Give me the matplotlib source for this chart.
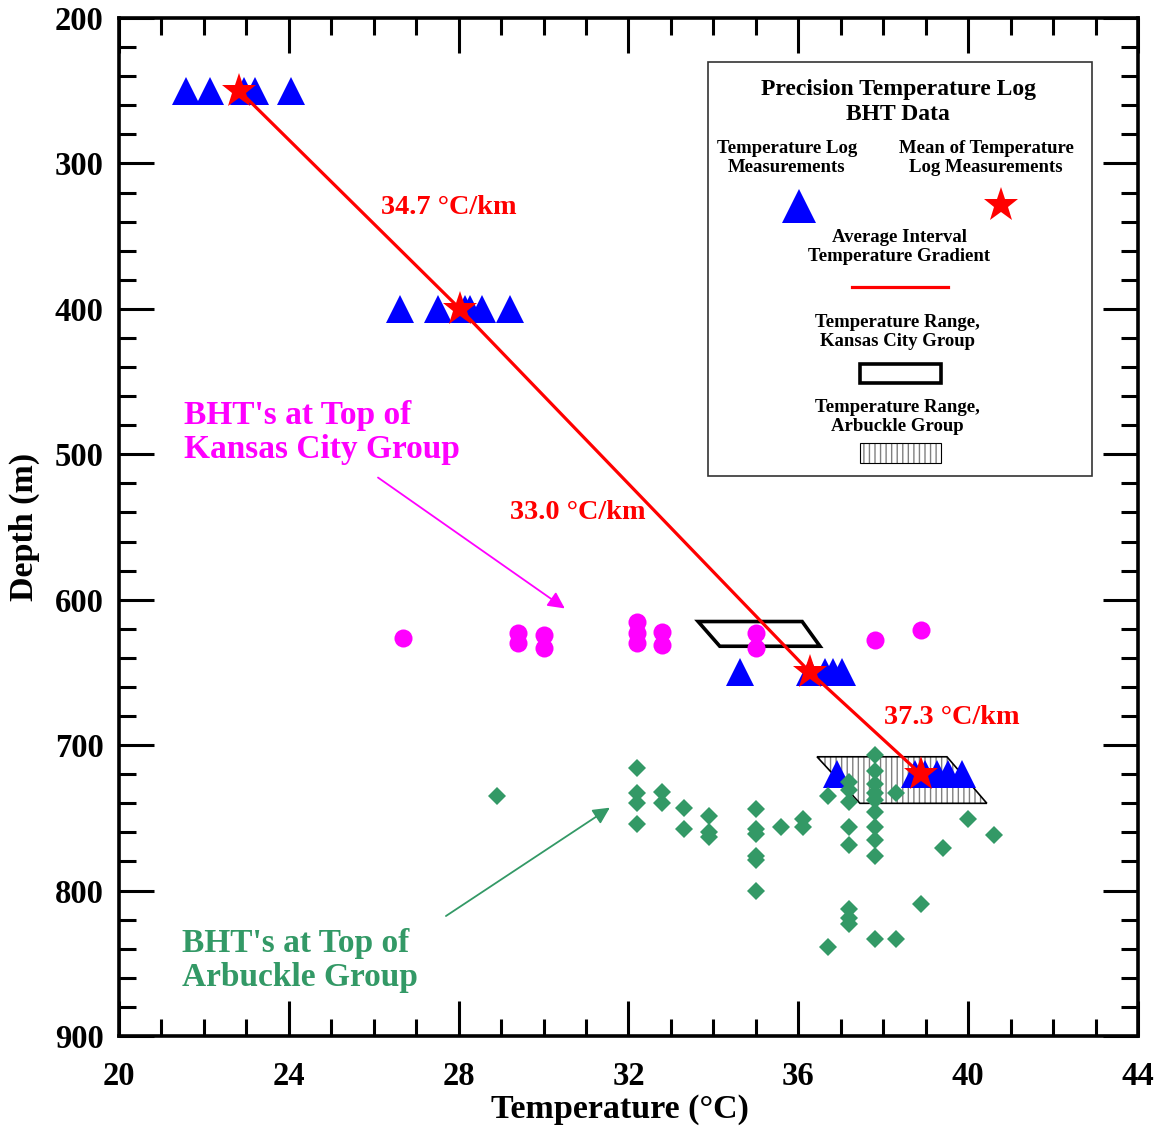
import matplotlib
matplotlib.use("Agg")
import matplotlib.pyplot as plt
from matplotlib.patches import Polygon, Rectangle
from matplotlib.lines import Line2D
from matplotlib.ticker import MultipleLocator

plt.rcParams['font.family'] = ['Liberation Serif', 'DejaVu Serif']
plt.rcParams['font.weight'] = 'bold'
plt.rcParams['hatch.linewidth'] = 1.0

# Precision temperature log measurements (deg C) at each logged depth (m)
log_depths = [250, 400, 650, 720]
log_temps = [
    [21.58, 22.14, 22.95, 23.20, 24.05],
    [26.62, 27.51, 28.15, 28.27, 28.55, 29.21],
    [34.63, 36.27, 36.63, 36.82, 37.03],
    [36.91, 38.75, 38.98, 39.27, 39.52, 39.85],
]
# Mean of the temperature log measurements
mean_temps = [22.83, 28.03, 36.28, 38.89]

# BHTs at top of the Kansas City Group
kc_temps = [26.7, 29.4, 29.4, 30.0, 30.0, 32.2, 32.2, 32.2, 32.8, 32.8,
            35.0, 35.0, 37.8, 38.9]
kc_depths = [626, 623, 630, 624, 633, 615, 623, 630, 622, 631,
             623, 633, 628, 621]

# BHTs at top of the Arbuckle Group
arb_temps = [28.9, 32.2, 32.2, 32.2, 32.2, 32.8, 32.8, 33.3, 33.3,
             33.9, 33.9, 33.9, 35.0, 35.0, 35.0, 35.0, 35.0, 35.0,
             35.6, 36.1, 36.1, 36.7, 36.7,
             37.2, 37.2, 37.2, 37.2, 37.2, 37.2, 37.2, 37.2,
             37.8, 37.8, 37.8, 37.8, 37.8, 37.8, 37.8, 37.8, 37.8, 37.8,
             38.3, 38.3, 38.9, 39.4, 40.0, 40.6]
arb_depths = [735, 716, 733, 740, 754, 732, 740, 743, 758,
              749, 760, 763, 744, 758, 761, 776, 779, 800,
              756, 751, 756, 735, 839,
              725, 731, 739, 756, 769, 813, 819, 823,
              707, 718, 727, 733, 738, 746, 756, 765, 776, 833,
              733, 833, 809, 771, 751, 762]

# Temperature ranges (parallelogram corners: temp, depth)
kc_range_T = [33.64, 36.09, 36.51, 34.15]
kc_range_D = [615, 615, 632, 632]
arb_range_T = [36.44, 39.50, 40.44, 37.45]
arb_range_D = [708, 708, 740, 740]

BLUE = '#0000FF'
RED = '#FF0000'
MAGENTA = '#FF00FF'
GREEN = '#339966'

W, H = 1165, 1128
fig = plt.figure(figsize=(W / 100, H / 100), dpi=100)
ax = fig.add_axes([119 / W, 1 - 1036 / H, (1138 - 119) / W, (1036 - 18) / H])

ax.set_xlim(20, 44)
ax.set_ylim(900, 200)

# Range boxes
ax.add_patch(Polygon(list(zip(arb_range_T, arb_range_D)), closed=True,
                     facecolor='white', edgecolor='gray', hatch='|||',
                     linewidth=0, zorder=1))
ax.add_patch(Polygon(list(zip(arb_range_T, arb_range_D)), closed=True,
                     fill=False, edgecolor='black', linewidth=1.2, zorder=1.1))
ax.add_patch(Polygon(list(zip(kc_range_T, kc_range_D)), closed=True,
                     fill=False, edgecolor='black', linewidth=2.6, zorder=1.2))

# Temperature log measurements
for d, temps in zip(log_depths, log_temps):
    ax.plot(temps, [d] * len(temps), linestyle='none', marker='^',
            markersize=20, color=BLUE, markeredgewidth=0, zorder=3)

ax.plot(arb_temps, arb_depths, linestyle='none', marker='D', markersize=9.5,
        color=GREEN, markeredgewidth=0, zorder=4)
ax.plot(kc_temps, kc_depths, linestyle='none', marker='o', markersize=13,
        color=MAGENTA, markeredgewidth=0, zorder=4)

# Average interval gradient and means
ax.plot(mean_temps, log_depths, color=RED, linewidth=2.3, zorder=5)
ax.plot(mean_temps, log_depths, linestyle='none', marker='*', markersize=26,
        color=RED, markeredgewidth=0, zorder=6)

# Interval gradient labels (deg C per km)
grad_pos = [(26.17, 330), (29.21, 540), (38.02, 681)]
for i, (gx, gy) in enumerate(grad_pos):
    g = (mean_temps[i + 1] - mean_temps[i]) / (log_depths[i + 1] - log_depths[i]) * 1000
    ax.text(gx, gy, f"{g:.1f} \u00b0C/km", color=RED, fontsize=20.3,
            fontweight='bold', ha='left', va='center', zorder=7)

ax.text(21.53, 485, "BHT's at Top of\nKansas City Group", color=MAGENTA,
        fontsize=24, fontweight='bold', ha='left', va='center',
        linespacing=1.1)
ax.annotate('', xy=(30.50, 606), xytext=(26.10, 516),
            arrowprops=dict(arrowstyle='-|>', color=MAGENTA, lw=1.3,
                            mutation_scale=25, shrinkA=0, shrinkB=0))
ax.text(21.48, 848, "BHT's at Top of\nArbuckle Group", color=GREEN,
        fontsize=24, fontweight='bold', ha='left', va='center',
        linespacing=1.1)
ax.annotate('', xy=(31.56, 743), xytext=(27.70, 817.5),
            arrowprops=dict(arrowstyle='-|>', color=GREEN, lw=1.3,
                            mutation_scale=25, shrinkA=0, shrinkB=0))

# Axes styling
ax.xaxis.set_major_locator(MultipleLocator(4))
ax.xaxis.set_minor_locator(MultipleLocator(1))
ax.yaxis.set_major_locator(MultipleLocator(100))
ax.yaxis.set_minor_locator(MultipleLocator(20))
ax.tick_params(which='both', direction='in', top=True, right=True, width=2.2)
ax.tick_params(which='major', length=25)
ax.tick_params(which='minor', length=12)
ax.tick_params(axis='x', which='major', labelsize=23.5, pad=18)
ax.tick_params(axis='y', which='major', labelsize=23.5, pad=11)
for lab in ax.get_xticklabels() + ax.get_yticklabels():
    lab.set_fontweight('bold')
for sp in ax.spines.values():
    sp.set_linewidth(2.6)

ax.set_xlabel("Temperature (\u00b0C)", fontsize=24.5, fontweight='bold')
ax.set_ylabel("Depth (m)", fontsize=24.5, fontweight='bold')
ax.xaxis.set_label_coords(0.492, -0.057)
ax.yaxis.set_label_coords(-0.078, 0.5)

# Legend panel, laid out in figure pixels
def fp(x, y):
    return (x / W, 1 - y / H)

tf = fig.transFigure
x0, y0 = fp(708, 476)
x1, y1 = fp(1092, 62)
fig.add_artist(Rectangle((x0, y0), x1 - x0, y1 - y0, transform=tf,
                         facecolor='white', edgecolor='#333333', linewidth=1.2,
                         zorder=10))

def ltext(x, y, s, size=13.5, spacing=1.22):
    fig.text(*fp(x, y), s, transform=tf, ha='center', va='center',
             fontsize=size, fontweight='bold', linespacing=spacing, zorder=11)

ltext(898, 102, "Precision Temperature Log\nBHT Data", 17, 1.2)
ltext(787, 158, "Temperature Log\nMeasurements")
ltext(986, 158, "Mean of Temperature\nLog Measurements")
fig.add_artist(Line2D([fp(799, 206)[0]], [fp(799, 206)[1]], transform=tf,
                      marker='^', markersize=25, color=BLUE,
                      markeredgewidth=0, linestyle='none', zorder=11))
fig.add_artist(Line2D([fp(1001, 205)[0]], [fp(1001, 205)[1]], transform=tf,
                      marker='*', markersize=26, color=RED,
                      markeredgewidth=0, linestyle='none', zorder=11))
ltext(899, 247, "Average Interval\nTemperature Gradient")
fig.add_artist(Line2D([fp(852, 287)[0], fp(948, 287)[0]],
                      [fp(852, 287)[1], fp(948, 287)[1]], transform=tf,
                      color=RED, linewidth=2.3, zorder=11))
ltext(897, 332, "Temperature Range,\nKansas City Group")
rx0, ry0 = fp(860, 383)
rx1, ry1 = fp(941, 364)
fig.add_artist(Rectangle((rx0, ry0), rx1 - rx0, ry1 - ry0, transform=tf,
                         fill=False, edgecolor='black', linewidth=2.6, zorder=11))
ltext(897, 417, "Temperature Range,\nArbuckle Group")
hx0, hy0 = fp(860, 463)
hx1, hy1 = fp(941, 443)
fig.add_artist(Rectangle((hx0, hy0), hx1 - hx0, hy1 - hy0, transform=tf,
                         facecolor='white', edgecolor='gray', hatch='|||',
                         linewidth=0, zorder=11))
fig.add_artist(Rectangle((hx0, hy0), hx1 - hx0, hy1 - hy0, transform=tf,
                         fill=False, edgecolor='black', linewidth=0.8, zorder=12))

fig.savefig("out.png", dpi=100)
